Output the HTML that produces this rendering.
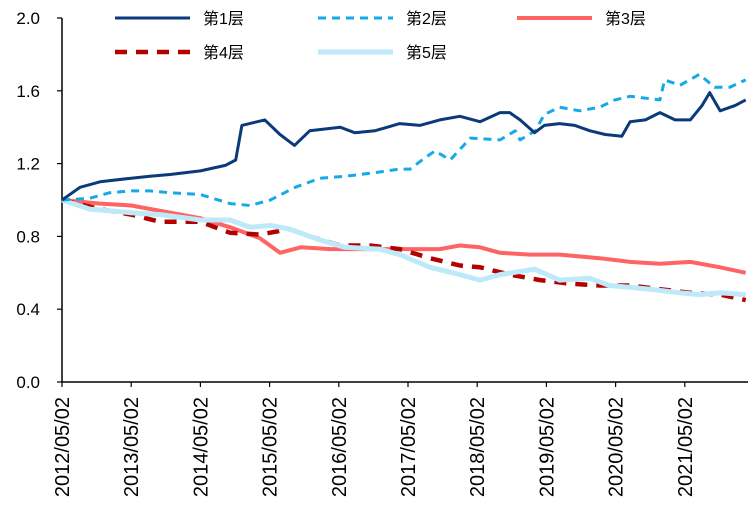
<!DOCTYPE html>
<html><head><meta charset="utf-8">
<style>
body{margin:0;background:#fff;}
svg text{font-family:"Liberation Sans","Noto Sans CJK SC",sans-serif;fill:#000;}
</style></head>
<body>
<svg id="chart" width="753" height="507" xmlns="http://www.w3.org/2000/svg"></svg>
<script>
const tickLabels=["2012/05/02","2013/05/02","2014/05/02","2015/05/02","2016/05/02","2017/05/02","2018/05/02","2019/05/02","2020/05/02","2021/05/02"];
const yTicks=[0,0.4,0.8,1.2,1.6,2.0];
const seriesNames=["第1层","第2层","第3层","第4层","第5层"];
// x positions in years since 2012/05/02
const s1x=[0,0.26,0.55,1,1.27,1.56,2,2.36,2.51,2.6,2.93,3.15,3.36,3.58,4.02,4.23,4.52,4.88,5.17,5.46,5.75,6.04,6.33,6.47,6.62,6.83,6.97,7.19,7.41,7.63,7.85,8.09,8.21,8.43,8.64,8.86,9.08,9.25,9.36,9.51,9.73,9.88];
const s1v=[1.0,1.07,1.1,1.12,1.13,1.14,1.16,1.19,1.22,1.41,1.44,1.36,1.30,1.38,1.40,1.37,1.38,1.42,1.41,1.44,1.46,1.43,1.48,1.48,1.44,1.37,1.41,1.42,1.41,1.38,1.36,1.35,1.43,1.44,1.48,1.44,1.44,1.52,1.59,1.49,1.52,1.55];
const s2x=[0,0.4,0.69,1,1.27,1.56,2,2.43,2.72,3.01,3.37,3.73,4.09,4.52,4.88,5.03,5.24,5.39,5.61,5.9,6.33,6.55,6.62,6.84,6.97,7.19,7.48,7.77,7.99,8.21,8.64,8.71,8.93,9.21,9.43,9.65,9.88];
const s2v=[1.0,1.01,1.04,1.05,1.05,1.04,1.03,0.98,0.97,1.0,1.07,1.12,1.13,1.15,1.17,1.17,1.23,1.27,1.22,1.34,1.33,1.38,1.33,1.38,1.47,1.51,1.49,1.51,1.55,1.57,1.55,1.66,1.63,1.69,1.62,1.62,1.66];
const s3x=[0,0.55,1,1.42,2,2.43,2.86,3.15,3.45,3.88,4.45,4.88,5.03,5.46,5.75,6.04,6.33,6.76,7.19,7.77,8.21,8.64,9.08,9.51,9.88];
const s3v=[1.0,0.98,0.97,0.94,0.90,0.85,0.79,0.71,0.74,0.73,0.73,0.73,0.73,0.73,0.75,0.74,0.71,0.70,0.70,0.68,0.66,0.65,0.66,0.63,0.60];
const s4x=[0,0.55,1,1.42,2,2.43,2.86,3.29,3.58,4.02,4.45,4.88,5.32,5.75,6.04,6.47,6.91,7.34,7.77,8.21,8.64,9.08,9.51,9.88];
const s4v=[1.0,0.95,0.92,0.88,0.88,0.82,0.81,0.84,0.80,0.75,0.75,0.73,0.68,0.64,0.63,0.59,0.56,0.54,0.53,0.53,0.51,0.49,0.48,0.45];
const s5x=[0,0.4,1,1.42,2,2.43,2.72,3.01,3.29,3.73,4.09,4.59,4.88,5.32,5.75,6.04,6.33,6.83,7.19,7.63,7.91,8.5,8.93,9.21,9.51,9.88];
const s5v=[1.0,0.95,0.93,0.92,0.89,0.89,0.85,0.86,0.84,0.78,0.74,0.73,0.70,0.63,0.59,0.56,0.59,0.62,0.56,0.57,0.53,0.51,0.49,0.48,0.49,0.48];

const NS="http://www.w3.org/2000/svg";
const svg=document.getElementById('chart');
const X0=62,PX=69.2,Y0=382,PY=182;
const xs=t=>X0+t*PX, ys=v=>Y0-v*PY;
function mk(tag,attrs,parent){const e=document.createElementNS(NS,tag);for(const k in attrs)e.setAttribute(k,attrs[k]);(parent||svg).appendChild(e);return e;}

const ax=mk('line',{x1:X0,y1:ys(2),x2:X0,y2:Y0,stroke:'#000','stroke-width':1.5});


const bx=mk('line',{x1:X0,y1:Y0,x2:748,y2:Y0,stroke:'#000','stroke-width':1.5});


yTicks.forEach(v=>{
  mk('line',{x1:X0-5,y1:ys(v),x2:X0,y2:ys(v),stroke:'#000','stroke-width':1.2});
  const t=mk('text',{x:X0-22,y:ys(v)+6,'text-anchor':'end','font-size':17});
  t.textContent=v.toFixed(1);
  
  
});
tickLabels.forEach((l,i)=>{
  const x=xs(i);
  mk('line',{x1:x,y1:Y0,x2:x,y2:Y0+5,stroke:'#000','stroke-width':1.2});
  const t=mk('text',{x:0,y:0,'text-anchor':'end','font-size':20,transform:`translate(${x+7},${Y0+15}) rotate(-90)`});
  t.textContent=l;
  
  
});

const styles=[
 {c:'#0b3a7a',w:3,d:''},
 {c:'#16a9e8',w:3,d:'8,6'},
 {c:'#ff6464',w:4,d:''},
 {c:'#b30000',w:4.5,d:'12,9'},
 {c:'#bde9f9',w:5,d:''}
];
const data=[[s1x,s1v],[s2x,s2v],[s3x,s3v],[s4x,s4v],[s5x,s5v]];
const order=[2,3,4,1,0];
order.forEach(i=>{
  const [xa,va]=data[i];const st=styles[i];
  const d=xa.map((t,j)=>(j?'L':'M')+xs(t).toFixed(1)+','+ys(va[j]).toFixed(1)).join('');
  const p=mk('path',{d:d,fill:'none',stroke:st.c,'stroke-width':st.w,'stroke-dasharray':st.d,'stroke-linejoin':'round'});
  
  
});

const lx=[115,318,517,115,318],ly=[18,18,18,52,52];
seriesNames.forEach((n,i)=>{
  const st=styles[i];
  const g=mk('g',{});
  
  
  mk('line',{x1:lx[i],y1:ly[i],x2:lx[i]+75,y2:ly[i],stroke:st.c,'stroke-width':st.w,'stroke-dasharray':st.d},g);
  const t=mk('text',{x:lx[i]+88,y:ly[i]+6,'font-size':16},g);
  t.textContent=n;
});
</script>
</body></html>
